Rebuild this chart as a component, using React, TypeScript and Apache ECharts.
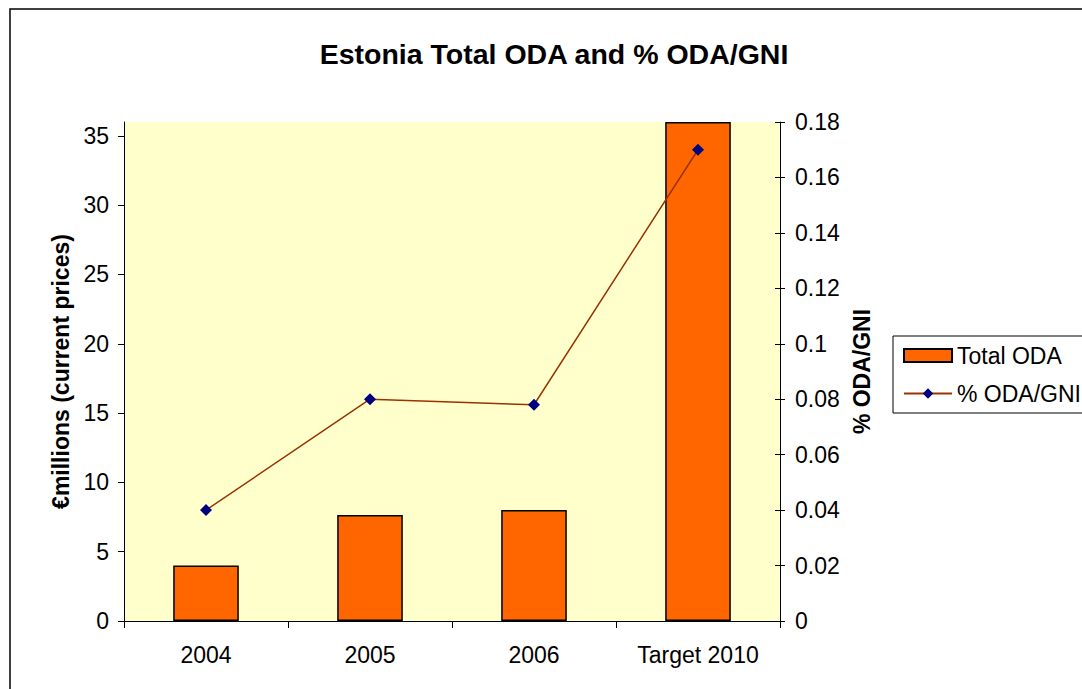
import React, { useEffect, useRef } from "react";
import * as echarts from "echarts";

const categories = ["2004", "2005", "2006", "Target 2010"];
const totalODA = [4, 7.65, 8, 36];
const pctODAGNI = [0.04, 0.08, 0.078, 0.17];
const leftTicks = [0, 5, 10, 15, 20, 25, 30, 35];

const FONT = "'Liberation Sans', Arial, sans-serif";

export default function App() {
  const ref = useRef<HTMLDivElement>(null);
  useEffect(() => {
    if (!ref.current) return;
    document.body.style.margin = "0";
    document.body.style.overflow = "hidden";
    const chart = echarts.init(ref.current, null, { renderer: "svg" });
    const axisLine = { show: true, lineStyle: { color: "#000", width: 1 } };
    chart.setOption({
      animation: false,
      backgroundColor: "#fff",
      textStyle: { fontFamily: FONT, color: "#000" },
      title: {
        text: "Estonia Total ODA and % ODA/GNI",
        left: 541,
        top: 26,
        textAlign: "center",
        textStyle: { fontFamily: FONT, fontSize: 28.5, fontWeight: "bold", color: "#000" },
      },
      graphic: [
        {
          type: "rect",
          shape: { x: 2, y: 1, width: 2000, height: 2000 },
          style: { fill: "none", stroke: "#000", lineWidth: 1.5 },
          silent: true,
        },
      ],
      legend: {
        orient: "vertical",
        left: 885,
        top: 328,
        padding: [8, 10, 8, 10],
        itemGap: 15,
        itemWidth: 48,
        itemHeight: 13,
        borderColor: "#000",
        borderWidth: 1,
        backgroundColor: "#fff",
        textStyle: { fontFamily: FONT, fontSize: 23, color: "#000" },
        data: [
          { name: "Total ODA", icon: "rect" },
          { name: "% ODA/GNI" },
        ],
      },
      grid: {
        left: 116,
        right: 302,
        top: 114,
        bottom: 68,
        show: true,
        backgroundColor: "#FFFFCC",
        borderWidth: 0,
      },
      xAxis: {
        type: "category",
        data: categories,
        axisLine,
        axisTick: { show: true, alignWithLabel: false, length: 7, lineStyle: { color: "#000" } },
        axisLabel: { fontFamily: FONT, fontSize: 23, color: "#000", margin: 22 },
        splitLine: { show: false },
      },
      yAxis: [
        {
          type: "value",
          min: 0,
          max: 36,
          interval: 5,
          position: "left",
          name: "€millions (current prices)",
          nameLocation: "middle",
          nameGap: 50,
          nameRotate: 90,
          nameTextStyle: { fontFamily: FONT, fontSize: 23, fontWeight: "bold", color: "#000" },
          axisLine,
          axisTick: { show: true, length: 6, customValues: leftTicks, lineStyle: { color: "#000" } },
          axisLabel: {
            fontFamily: FONT,
            fontSize: 23,
            color: "#000",
            margin: 15,
            customValues: leftTicks,
          },
          splitLine: { show: false },
        },
        {
          type: "value",
          min: 0,
          max: 0.18,
          interval: 0.02,
          position: "right",
          name: "% ODA/GNI",
          nameLocation: "middle",
          nameGap: 70,
          nameRotate: 90,
          nameTextStyle: { fontFamily: FONT, fontSize: 23, fontWeight: "bold", color: "#000" },
          axisLine,
          axisTick: { show: true, length: 5, lineStyle: { color: "#000" } },
          axisLabel: {
            fontFamily: FONT,
            fontSize: 23,
            color: "#000",
            margin: 15,
            formatter: (v: number) => String(parseFloat(v.toFixed(2))),
          },
          splitLine: { show: false },
        },
        {
          type: "value",
          min: 0,
          max: 0.18,
          interval: 0.02,
          position: "right",
          axisLine: { show: false },
          axisTick: { show: true, inside: true, length: 5, lineStyle: { color: "#000" } },
          axisLabel: { show: false },
          splitLine: { show: false },
        },
      ],
      series: [
        {
          name: "Total ODA",
          type: "bar",
          yAxisIndex: 0,
          data: totalODA,
          barWidth: "40%",
          itemStyle: { color: "#FF6600", borderColor: "#000", borderWidth: 1.5 },
        },
        {
          name: "% ODA/GNI",
          type: "line",
          yAxisIndex: 1,
          data: pctODAGNI,
          symbol: "diamond",
          symbolSize: 12,
          lineStyle: { color: "#993300", width: 1.5 },
          itemStyle: { color: "#000080" },
          z: 5,
        },
      ],
    });
    return () => chart.dispose();
  }, []);
  return <div ref={ref} style={{ width: 1074, height: 681, margin: "8px 0 0 8px" }} />;
}
